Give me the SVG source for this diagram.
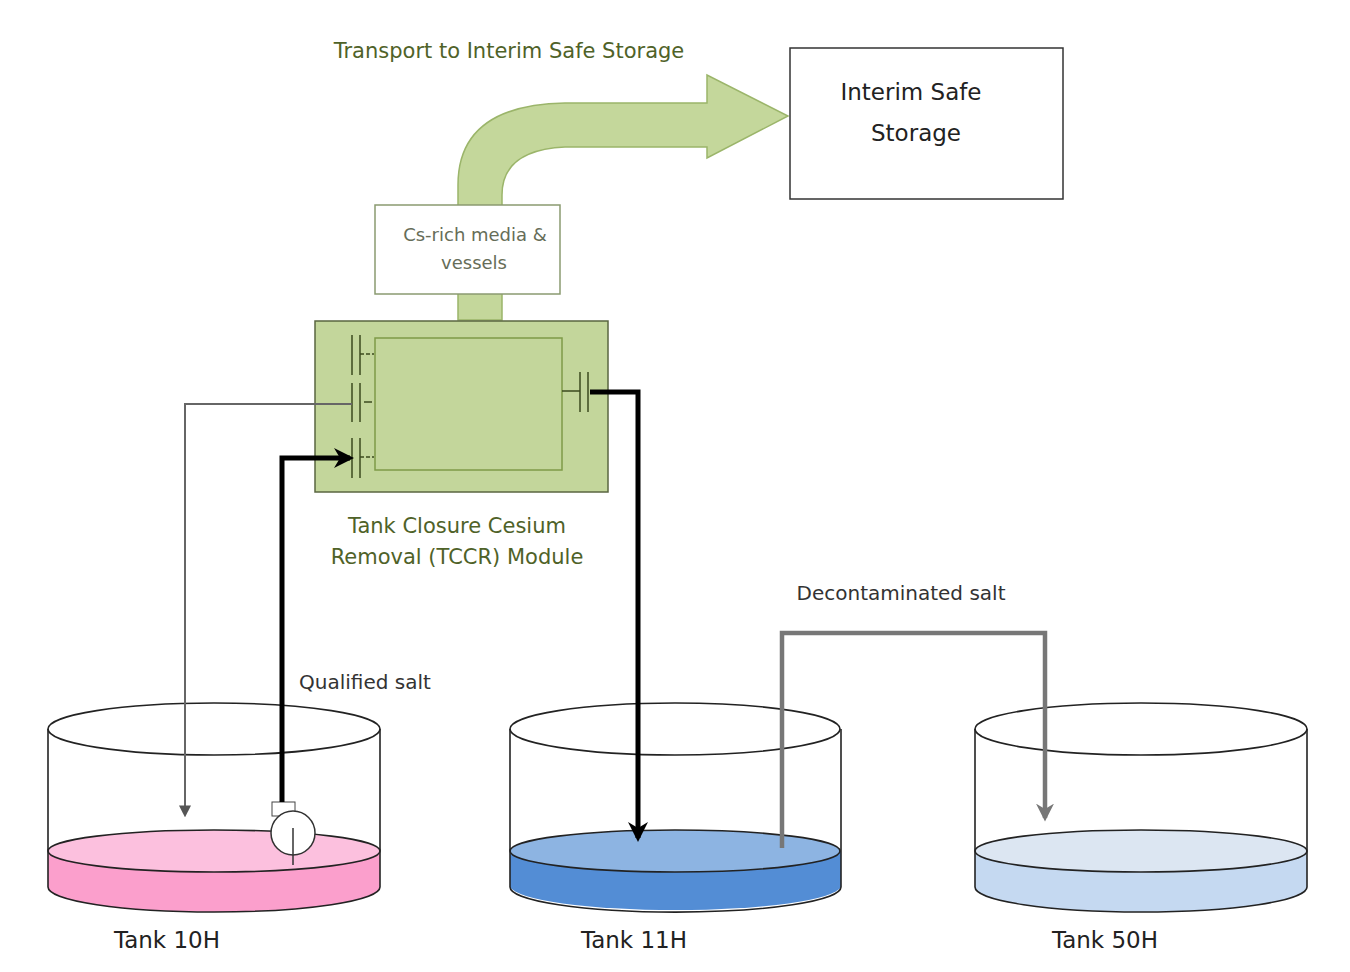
<svg xmlns="http://www.w3.org/2000/svg" width="1350" height="972" viewBox="0 0 1350 972">
<defs>
<style>
text{font-family:"DejaVu Sans","Liberation Sans",sans-serif}
.g{fill:#4f6228}.k{fill:#222}
.tk{fill:none;stroke:#222;stroke-width:1.6}
</style>
<marker id="ab" viewBox="0 0 10 10" refX="8" refY="5" markerWidth="4" markerHeight="4" orient="auto"><path d="M0,0 L10,5 L0,10 L3,5 Z" fill="#000"/></marker>
<marker id="ag" viewBox="0 0 10 10" refX="8" refY="5" markerWidth="4" markerHeight="4" orient="auto"><path d="M0,0 L10,5 L0,10 L3,5 Z" fill="#777"/></marker>
<marker id="as" viewBox="0 0 10 10" refX="8" refY="5" markerWidth="6" markerHeight="6" orient="auto"><path d="M0,0 L10,5 L0,10 Z" fill="#555"/></marker>
</defs>
<rect width="1350" height="972" fill="#fff"/>
<g id="transport">
<path d="M458,320 L458,185 Q458,105 565,103 L707,103 L707,75 L788,116 L707,158 L707,147 L565,147 Q502,150 502,195 L502,320 Z" fill="#c4d79b" stroke="#9bb56a" stroke-width="1.5"/>
<text x="509" y="58" font-size="21" text-anchor="middle" class="g">Transport to Interim Safe Storage</text>
</g>
<g id="iss">
<rect x="790" y="48" width="273" height="151" fill="#fff" stroke="#333" stroke-width="1.5"/>
<text x="911" y="100" font-size="23" text-anchor="middle" class="k">Interim Safe</text>
<text x="916" y="141" font-size="23" text-anchor="middle" class="k">Storage</text>
</g>
<g id="cs">
<rect x="375" y="205" width="185" height="89" fill="#fff" stroke="#8a9a70" stroke-width="1.5"/>
<text x="475" y="241" font-size="18" text-anchor="middle" fill="#666d58">Cs-rich media  &amp;</text>
<text x="474" y="269" font-size="18" text-anchor="middle" fill="#666d58">vessels</text>
</g>
<g id="tccr">
<rect x="315" y="321" width="293" height="171" fill="#c3d69b" stroke="#5a6640" stroke-width="1.5"/>
<rect x="375" y="338" width="187" height="132" fill="none" stroke="#7f9a48" stroke-width="1.5"/>
<g stroke="#3b4a1e" stroke-width="1.5">
<line x1="352" y1="335" x2="352" y2="375"/><line x1="360" y1="335" x2="360" y2="375"/><line x1="360" y1="354" x2="374" y2="354" stroke-dasharray="4,2"/>
<line x1="352" y1="383" x2="352" y2="422"/><line x1="360" y1="383" x2="360" y2="422"/><line x1="364" y1="402" x2="372" y2="402"/>
<line x1="352" y1="438" x2="352" y2="478"/><line x1="360" y1="438" x2="360" y2="478"/><line x1="360" y1="457" x2="374" y2="457" stroke-dasharray="4,2"/>
<line x1="580" y1="372" x2="580" y2="412"/><line x1="588" y1="372" x2="588" y2="412"/><line x1="562" y1="391" x2="580" y2="391"/>
</g>
<text x="457" y="533" font-size="21" text-anchor="middle" class="g">Tank Closure Cesium</text>
<text x="457" y="564" font-size="21" text-anchor="middle" class="g">Removal (TCCR) Module</text>
</g>
<g id="tank10h">
<path d="M48,887 L48,851 A166,21 0 0 1 380,851 L380,887 A166,25 0 0 1 48,887 Z" fill="#fb9fcc" stroke="none"/>
<ellipse cx="214" cy="851" rx="166" ry="21" fill="#fcc0de" stroke="#222" stroke-width="1.6"/>
<path class="tk" d="M48,887 A166,25 0 0 0 380,887"/>
<ellipse cx="214" cy="729" rx="166" ry="26" class="tk"/>
<line x1="48" y1="729" x2="48" y2="887" class="tk" stroke-width="1"/><line x1="380" y1="729" x2="380" y2="887" class="tk" stroke-width="1"/>
<rect x="272" y="802" width="23" height="14" fill="#fff" stroke="#444"/>
<circle cx="293" cy="833" r="22" fill="#fff" stroke="#333" stroke-width="1.5"/>
<line x1="293" y1="828" x2="293" y2="865" stroke="#333" stroke-width="1.5"/>
<text x="167" y="948" font-size="23" text-anchor="middle" class="k">Tank 10H</text>
</g>
<g id="tank11h">
<path d="M510,887 L510,851 A166,21 0 0 1 841,851 L841,887 A166,25 0 0 1 510,887 Z" fill="#538dd5" stroke="none"/>
<ellipse cx="675" cy="851" rx="165" ry="21" fill="#8db4e2" stroke="#222" stroke-width="1.6"/>
<path class="tk" d="M510,887 A165,25 0 0 0 841,887"/>
<ellipse cx="675" cy="729" rx="165" ry="26" class="tk"/>
<line x1="510" y1="729" x2="510" y2="887" class="tk" stroke-width="1"/><line x1="841" y1="729" x2="841" y2="887" class="tk" stroke-width="1"/>
<text x="634" y="948" font-size="23" text-anchor="middle" class="k">Tank 11H</text>
</g>
<g id="tank50h">
<path d="M975,887 L975,851 A166,21 0 0 1 1307,851 L1307,887 A166,25 0 0 1 975,887 Z" fill="#c5d9f1" stroke="none"/>
<ellipse cx="1141" cy="851" rx="166" ry="21" fill="#dce6f2" stroke="#222" stroke-width="1.6"/>
<path class="tk" d="M975,887 A166,25 0 0 0 1307,887"/>
<ellipse cx="1141" cy="729" rx="166" ry="26" class="tk"/>
<line x1="975" y1="729" x2="975" y2="887" class="tk" stroke-width="1"/><line x1="1307" y1="729" x2="1307" y2="887" class="tk" stroke-width="1"/>
<text x="1105" y="948" font-size="23" text-anchor="middle" class="k">Tank 50H</text>
</g>
<g id="connectors" fill="none">
<polyline points="352,404 185,404 185,815" stroke="#666" stroke-width="2" marker-end="url(#as)"/>
<polyline points="282,802 282,458 350,458" stroke="#000" stroke-width="5" marker-end="url(#ab)"/>
<polyline points="590,392 638,392 638,838" stroke="#000" stroke-width="5" marker-end="url(#ab)"/>
<polyline points="782,848 782,633 1045,633 1045,818" stroke="#777" stroke-width="4.5" marker-end="url(#ag)"/>
<text x="365" y="689" font-size="20" text-anchor="middle" fill="#333">Qualified salt</text>
<text x="901" y="600" font-size="20" text-anchor="middle" fill="#333">Decontaminated salt</text>
</g>
</svg>
